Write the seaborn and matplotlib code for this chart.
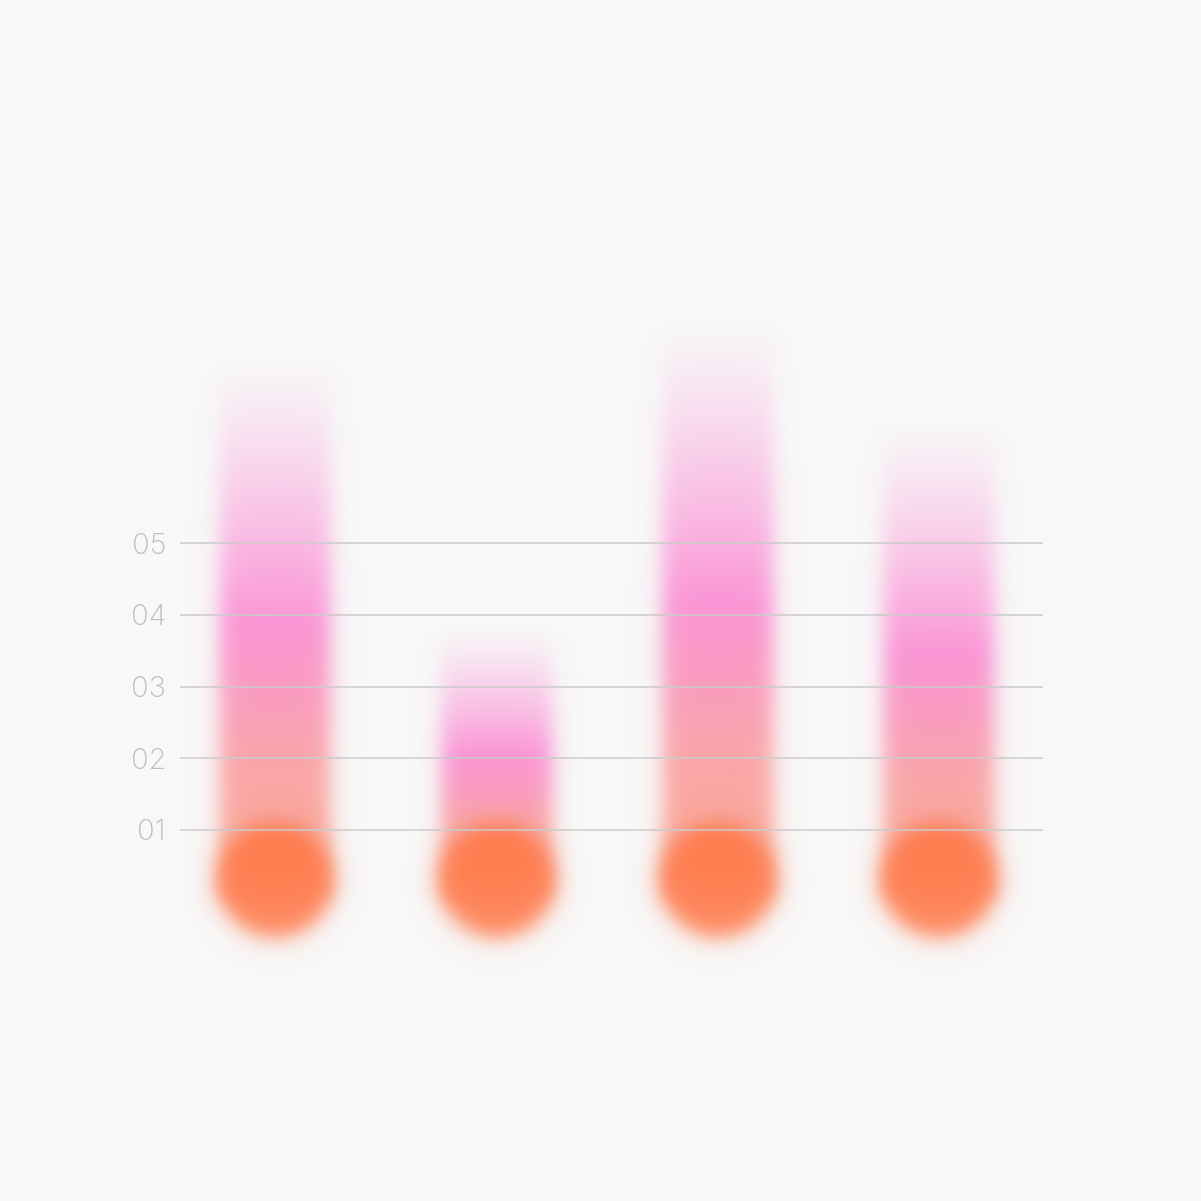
import numpy as np
import pandas as pd
import matplotlib
matplotlib.use("Agg")
import matplotlib.pyplot as plt
import seaborn as sns

# ---------------- data ----------------
categories = ["A", "B", "C", "D"]
values = [7.55, 3.82, 8.08, 6.67]
base_value = 0.30
tick_values = [1, 2, 3, 4, 5]
tick_labels = ["01", "02", "03", "04", "05"]

BG = "#f8f8f8"
sns.set_theme(style="white")
plt.rcParams['font.family'] = ['Inter', 'DejaVu Sans']

W = 1201
fig = plt.figure(figsize=(W / 100, W / 100), dpi=100, facecolor=BG)
ax = fig.add_axes([180 / W, 0, 863 / W, 1])
ax.set_facecolor(BG)

df = pd.DataFrame({"cat": categories, "val": values})
sns.barplot(data=df, x="cat", y="val", ax=ax, width=0.5, errorbar=None,
            color="#ff90d8")

XLIM = (-0.429, 3.470)
YLIM = (1 - (W - 830) / 71.75, 1 + 830 / 71.75)
ax.set_xlim(*XLIM)
ax.set_ylim(*YLIM)

sx = 863 / (XLIM[1] - XLIM[0])      # px per x unit
sy = W / (YLIM[1] - YLIM[0])        # px per y unit


def sig(z):
    return 1.0 / (1.0 + np.exp(-z))


def interp_colors(t, stops):
    ts = np.array([s[0] for s in stops])
    cols = np.array([s[1] for s in stops], dtype=float) / 255.0
    out = np.zeros(t.shape + (3,))
    for k in range(3):
        out[..., k] = np.interp(t, ts, cols[:, k])
    return out


bar_stops = [
    (0.00, (250, 172, 152)),
    (0.22, (250, 166, 168)),
    (0.36, (250, 156, 192)),
    (0.50, (251, 150, 214)),
    (1.00, (251, 160, 220)),
]

patches = list(ax.patches)
for p in patches:
    x0, w, top = p.get_x(), p.get_width(), p.get_height()
    p.set_visible(False)
    cx = x0 + w / 2
    halfw = w / 2 * sx
    ex0, ex1 = cx - 0.45, cx + 0.45
    ey0, ey1 = base_value - 1.4, top + 0.4
    nx = int((ex1 - ex0) * sx)
    ny = int((ey1 - ey0) * sy)
    xs = ex0 + (np.arange(nx) + 0.5) / nx * (ex1 - ex0)
    ys = ey0 + (np.arange(ny) + 0.5) / ny * (ey1 - ey0)
    X, Y = np.meshgrid(xs, ys)
    dx = (X - cx) * sx
    dy = (Y - base_value) * sy

    # bar layer
    t = (Y - base_value) / (top - base_value)
    tc = np.clip(t, 0, 1)
    h_alpha = sig((halfw - np.abs(dx)) / 6.0)
    fade = np.clip((1.0 - t) / 0.5, 0, 1)
    v_alpha = np.where(t <= 0.5, 1.0, fade ** 1.1)
    v_alpha = v_alpha * sig(dy / 6.0 + 3)
    rgba = np.zeros((ny, nx, 4))
    rgba[..., :3] = interp_colors(tc, bar_stops)
    rgba[..., 3] = h_alpha * v_alpha
    ax.imshow(rgba, extent=[ex0, ex1, ey0, ey1], origin="lower",
              aspect="auto", interpolation="bilinear", zorder=1)

    # circle layer
    r = np.sqrt(dx ** 2 + dy ** 2)
    c_alpha = sig((56.5 - r) / 6.5)
    ct = np.clip((-dy + 58) / 116, 0, 1)
    crgba = np.zeros((ny, nx, 4))
    crgba[..., :3] = interp_colors(ct, [(0.0, (255, 121, 74)),
                                        (1.0, (255, 137, 95))])
    crgba[..., 3] = c_alpha
    ax.imshow(crgba, extent=[ex0, ex1, ey0, ey1], origin="lower",
              aspect="auto", interpolation="bilinear", zorder=1.5)

ax.set_xlim(*XLIM)
ax.set_ylim(*YLIM)

ax.set_yticks(tick_values, tick_labels)
ax.set_xticks([])
ax.set_axisbelow(False)
ax.yaxis.grid(True, color="#cbcbcb", linewidth=1.1)
ax.xaxis.grid(False)
ax.tick_params(axis="y", length=0, pad=10, labelsize=21, labelcolor="#bdbdbd")
for lab in ax.get_yticklabels():
    lab.set_fontweight("light")
ax.set_xlabel("")
ax.set_ylabel("")
for s in ax.spines.values():
    s.set_visible(False)

fig.savefig("out.png", dpi=100, facecolor=BG)
